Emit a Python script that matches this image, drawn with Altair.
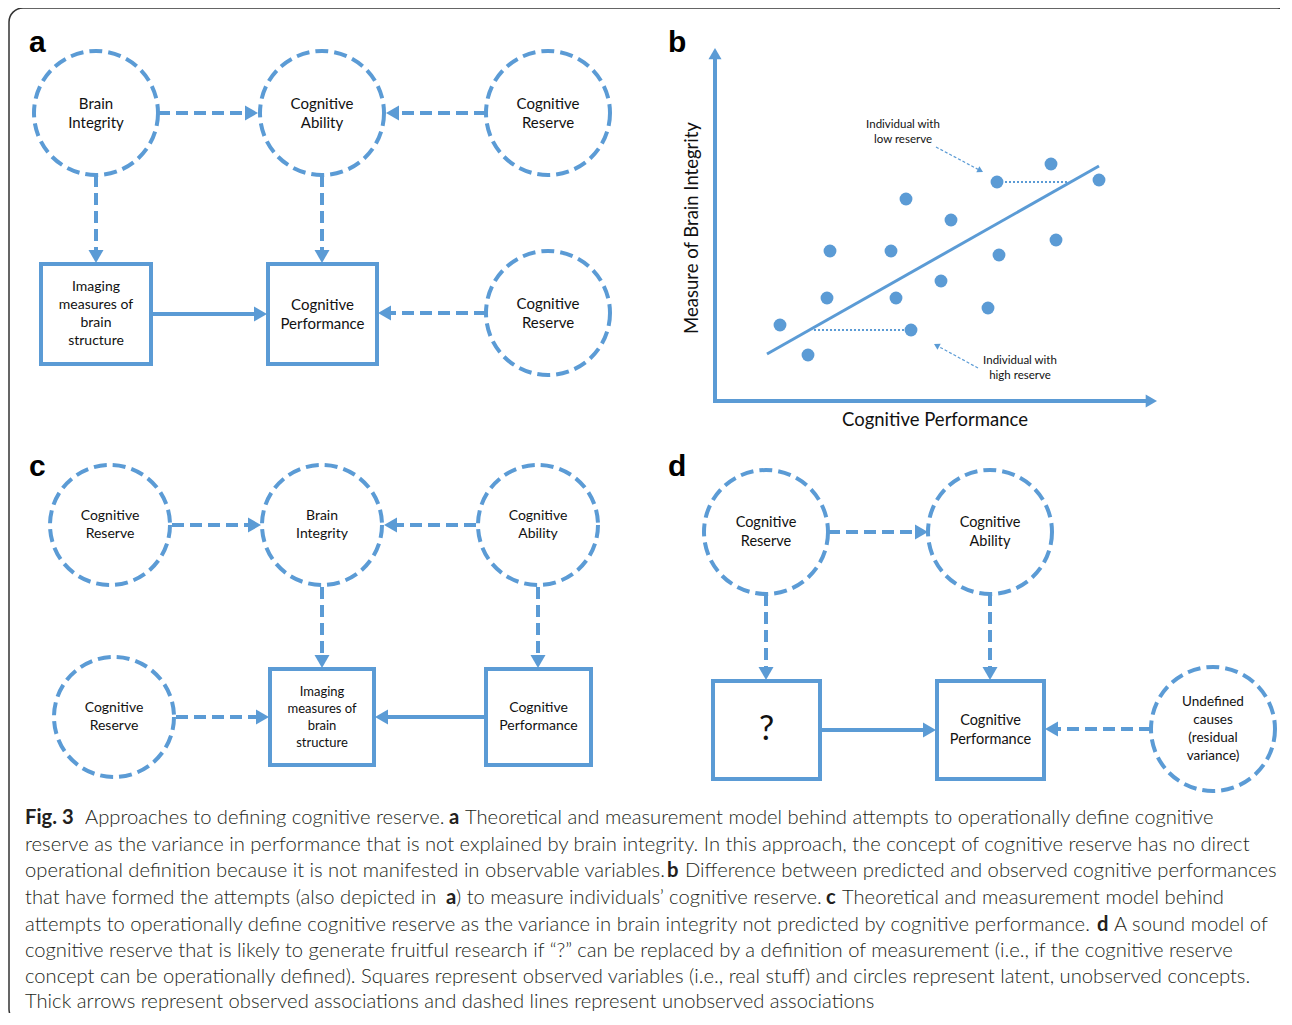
import math
import altair as alt
import pandas as pd

BLUE = "#5B9BD5"

# ---------------- latent concepts (dashed circles) ----------------
circle_panel = ["a", "a", "a", "a", "c", "c", "c", "c", "d", "d", "d"]
circle_label = ["Brain\nIntegrity", "Cognitive\nAbility", "Cognitive\nReserve", "Cognitive\nReserve",
                "Cognitive\nReserve", "Brain\nIntegrity", "Cognitive\nAbility", "Cognitive\nReserve",
                "Cognitive\nReserve", "Cognitive\nAbility", "Undefined\ncauses\n(residual\nvariance)"]
circle_x = [96, 322, 548, 548, 110, 322, 538, 114, 766, 990, 1213]
circle_y = [113, 113, 113, 313, 525, 525, 525, 717, 532, 532, 729]

# ---------------- observed variables (boxes) ----------------
box_panel = ["a", "a", "c", "c", "d", "d"]
box_label = ["Imaging\nmeasures of\nbrain\nstructure", "Cognitive\nPerformance",
             "Imaging\nmeasures of\nbrain\nstructure", "Cognitive\nPerformance",
             "?", "Cognitive\nPerformance"]
box_x0 = [41, 268, 270, 486, 713, 937]
box_x1 = [151, 377, 374, 591, 820, 1044]
box_y0 = [264, 264, 669, 669, 681, 681]
box_y1 = [364, 364, 765, 765, 779, 779]

# ---------------- associations (arrows) ----------------
edge_kind = ["dashed", "dashed", "dashed", "dashed", "solid", "dashed",
             "dashed", "dashed", "dashed", "dashed", "dashed", "solid",
             "dashed", "dashed", "dashed", "solid", "dashed"]
edge_x1 = [158, 486, 96, 322, 151, 486, 172, 476, 322, 538, 176, 486, 828, 766, 990, 820, 1151]
edge_y1 = [113, 113, 175, 175, 314, 313, 525, 525, 587, 587, 717, 717, 532, 594, 594, 730, 729]
edge_x2 = [258, 386, 96, 322, 267, 378, 261, 384, 322, 538, 269, 375, 928, 766, 990, 936, 1045]
edge_y2 = [113, 113, 263, 263, 314, 313, 525, 525, 668, 668, 717, 717, 532, 680, 680, 730, 729]

# ---------------- panel b scatter ----------------
scatter_x = [780, 808, 827, 830, 891, 896, 906, 911, 941, 951, 988, 999, 997, 1051, 1056, 1099]
scatter_y = [325, 355, 298, 251, 251, 298, 199, 330, 281, 220, 308, 255, 182, 164, 240, 180]
fit_x = [767, 1099]
fit_y = [354, 166]
resid_x1 = [997, 814]
resid_x2 = [1069, 911]
resid_y = [182, 330]
axis_x1 = [715, 713]
axis_y1 = [402, 401]
axis_x2 = [715, 1157]
axis_y2 = [48, 401]
note_label = ["Individual with\nlow reserve", "Individual with\nhigh reserve"]
note_x = [903, 1020]
note_y = [132, 368]
note_x1 = [936, 978]
note_y1 = [147, 368]
note_x2 = [983, 934]
note_y2 = [172, 344]

panel_letters = ["a", "b", "c", "d"]
panel_letter_x = [29, 668, 29, 668]
panel_letter_y = [52, 52, 476, 476]

# ---------------- caption ----------------
caption_line_y = [818, 845, 871, 898, 925, 951, 977, 1002]
seg_line = [0, 0, 0, 0, 1, 2, 2, 2, 3, 3, 3, 3, 3, 4, 4, 4, 5, 6, 7]
seg_x = [25, 85, 449, 465, 25, 25, 667, 685, 25, 446, 456, 826, 842, 25, 1097, 1114, 25, 25, 25]
seg_bold = [1, 0, 1, 0, 0, 0, 1, 0, 0, 1, 0, 1, 0, 0, 1, 0, 0, 0, 0]
seg_text = [
    "Fig. 3", "Approaches to defining cognitive reserve.", "a",
    "Theoretical and measurement model behind attempts to operationally define cognitive",
    "reserve as the variance in performance that is not explained by brain integrity. In this approach, the concept of cognitive reserve has no direct",
    "operational definition because it is not manifested in observable variables.", "b",
    "Difference between predicted and observed cognitive performances",
    "that have formed the attempts (also depicted in", "a",
    ") to measure individuals\u2019 cognitive reserve.", "c",
    "Theoretical and measurement model behind",
    "attempts to operationally define cognitive reserve as the variance in brain integrity not predicted by cognitive performance.",
    "d", "A sound model of",
    "cognitive reserve that is likely to generate fruitful research if \u201c?\u201d can be replaced by a definition of measurement (i.e., if the cognitive reserve",
    "concept can be operationally defined). Squares represent observed variables (i.e., real stuff) and circles represent latent, unobserved concepts.",
    "Thick arrows represent observed associations and dashed lines represent unobserved associations",
]

# ================= build chart =================
W, H = 1272, 1005
XS = alt.Scale(domain=[8, 8 + W], zero=False, nice=False)
YS = alt.Scale(domain=[8 + H, 8], zero=False, nice=False)


def X(f="x"):
    return alt.X(f + ":Q", scale=XS, axis=None)


def Y(f="y"):
    return alt.Y(f + ":Q", scale=YS, axis=None)


def arrows(x1, y1, x2, y2, head):
    rows_l, rows_h = [], []
    hl = 0.866 * math.sqrt(head)
    for a, b, c, d in zip(x1, y1, x2, y2):
        L = math.hypot(c - a, d - b)
        ux, uy = (c - a) / L, (d - b) / L
        rows_l.append({"x": a, "y": b, "x2": c - ux * (hl - 1), "y2": d - uy * (hl - 1)})
        rows_h.append({"x": c - ux * hl / 2, "y": d - uy * hl / 2,
                       "ang": math.degrees(math.atan2(ux, -uy)) % 360})
    return pd.DataFrame(rows_l), pd.DataFrame(rows_h)


def first_line_y(y, label, lh):
    # multi-line text is drawn downward from the first line: centre the block
    return y - (label.count("\n")) * lh / 2


layers = []

# frame
frame = pd.DataFrame({"x": [9], "x2": [1291], "y": [8], "y2": [1023]})
layers.append(alt.Chart(frame).mark_rect(fillOpacity=0, stroke="#333333", strokeWidth=1.5, cornerRadius=14)
              .encode(x=X(), x2="x2:Q", y=Y(), y2="y2:Q"))

# circles
circ = pd.DataFrame({"x": circle_x, "y": circle_y, "label": circle_label, "panel": circle_panel})
circ["d"] = [120 if p == "c" else 124 for p in circle_panel]
layers.append(alt.Chart(circ).mark_point(shape="circle", filled=False, opacity=1, stroke=BLUE,
                                          strokeWidth=4, strokeDash=[13, 6])
              .encode(x=X(), y=Y(), size=alt.Size("sz:Q", scale=None))
              .transform_calculate(sz="datum.d * datum.d"))

# boxes
box = pd.DataFrame({"x": box_x0, "x2": box_x1, "y": box_y0, "y2": box_y1, "label": box_label})
layers.append(alt.Chart(box).mark_rect(fillOpacity=0, stroke=BLUE, strokeWidth=4)
              .encode(x=X(), x2="x2:Q", y=Y(), y2="y2:Q"))

# arrows
for kind, dash in (("dashed", [12, 6]), ("solid", None)):
    idx = [i for i, k in enumerate(edge_kind) if k == kind]
    lines, heads = arrows([edge_x1[i] for i in idx], [edge_y1[i] for i in idx],
                          [edge_x2[i] for i in idx], [edge_y2[i] for i in idx], 225)
    kw = dict(color=BLUE, strokeWidth=4)
    if dash:
        kw["strokeDash"] = dash
    layers.append(alt.Chart(lines).mark_rule(**kw).encode(x=X(), y=Y(), x2="x2:Q", y2="y2:Q"))
    layers.append(alt.Chart(heads).mark_point(shape="triangle-up", filled=True, opacity=1, color=BLUE, size=225)
                  .encode(x=X(), y=Y(), angle=alt.Angle("ang:Q", scale=None)))

# panel b axes
lines, heads = arrows(axis_x1, axis_y1, axis_x2, axis_y2, 170)
layers.append(alt.Chart(lines).mark_rule(color=BLUE, strokeWidth=4).encode(x=X(), y=Y(), x2="x2:Q", y2="y2:Q"))
layers.append(alt.Chart(heads).mark_point(shape="triangle-up", filled=True, opacity=1, color=BLUE, size=170)
              .encode(x=X(), y=Y(), angle=alt.Angle("ang:Q", scale=None)))

# annotation arrows
lines, heads = arrows(note_x1, note_y1, note_x2, note_y2, 45)
layers.append(alt.Chart(lines).mark_rule(color=BLUE, strokeWidth=1.2, strokeDash=[3, 2])
              .encode(x=X(), y=Y(), x2="x2:Q", y2="y2:Q"))
layers.append(alt.Chart(heads).mark_point(shape="triangle-up", filled=True, opacity=1, color=BLUE, size=45)
              .encode(x=X(), y=Y(), angle=alt.Angle("ang:Q", scale=None)))

# fit line and residuals
fit = pd.DataFrame({"x": [fit_x[0]], "y": [fit_y[0]], "x2": [fit_x[1]], "y2": [fit_y[1]]})
layers.append(alt.Chart(fit).mark_rule(color=BLUE, strokeWidth=3).encode(x=X(), y=Y(), x2="x2:Q", y2="y2:Q"))
res = pd.DataFrame({"x": resid_x1, "x2": resid_x2, "y": resid_y})
layers.append(alt.Chart(res).mark_rule(color=BLUE, strokeWidth=2, strokeDash=[2, 2])
              .encode(x=X(), x2="x2:Q", y=Y()))
sc = pd.DataFrame({"x": scatter_x, "y": scatter_y})
layers.append(alt.Chart(sc).mark_circle(color=BLUE, opacity=1, size=165).encode(x=X(), y=Y()))


# node texts
def node_style(panel, label):
    n = label.count("\n") + 1
    if label == "?":
        return (34, 40)
    if panel == "a":
        return (14, 18) if n == 4 else (15, 19)
    if panel == "c":
        return (13, 17) if n == 4 else (14, 18)
    return (13.5, 18) if n == 4 else (14.5, 19)


trows = []
for x, y, l, p in zip(circle_x, circle_y, circle_label, circle_panel):
    fs, lh = node_style(p, l)
    trows.append({"x": x, "y": first_line_y(y, l, lh), "label": l, "fs": fs, "lh": lh})
for x0, x1, y0, y1, l, p in zip(box_x0, box_x1, box_y0, box_y1, box_label, box_panel):
    fs, lh = node_style(p, l)
    trows.append({"x": (x0 + x1) / 2, "y": first_line_y((y0 + y1) / 2, l, lh), "label": l, "fs": fs, "lh": lh})
tdf = pd.DataFrame(trows)
for (fs, lh), g in tdf.groupby(["fs", "lh"]):
    layers.append(alt.Chart(g.reset_index(drop=True)).mark_text(
        font="Lato", fontSize=float(fs), lineHeight=float(lh), lineBreak="\n",
        align="center", baseline="middle", color="#111111")
        .encode(x=X(), y=Y(), text="label:N"))

# panel b texts
notes = pd.DataFrame({"x": note_x, "y": [first_line_y(y, l, 15) for y, l in zip(note_y, note_label)],
                      "label": note_label})
layers.append(alt.Chart(notes).mark_text(font="Lato", fontSize=11.5, lineHeight=15, lineBreak="\n",
                                         align="center", baseline="middle", color="#111111")
              .encode(x=X(), y=Y(), text="label:N"))
axl = pd.DataFrame({"x": [935], "y": [420], "label": ["Cognitive Performance"]})
layers.append(alt.Chart(axl).mark_text(font="Lato", fontSize=18.5, align="center", baseline="middle",
                                       color="#111111")
              .encode(x=X(), y=Y(), text="label:N"))
ayl = pd.DataFrame({"x": [692], "y": [228], "label": ["Measure of Brain Integrity"]})
layers.append(alt.Chart(ayl).mark_text(font="Lato", fontSize=18.5, angle=270, align="center", baseline="middle",
                                       color="#111111")
              .encode(x=X(), y=Y(), text="label:N"))

# panel letters
pl = pd.DataFrame({"x": panel_letter_x, "y": panel_letter_y, "label": panel_letters})
layers.append(alt.Chart(pl).mark_text(font="Liberation Sans", fontSize=30, fontWeight="bold", align="left",
                                      baseline="alphabetic", color="#000000")
              .encode(x=X(), y=Y(), text="label:N"))

# caption
cap = pd.DataFrame({"x": seg_x, "y": [caption_line_y[i] for i in seg_line], "label": seg_text, "bold": seg_bold})
layers.append(alt.Chart(cap[cap.bold == 0].reset_index(drop=True)).mark_text(
    font="Lato", fontSize=20.2, fontWeight=300, align="left", baseline="middle", color="#231F20")
    .encode(x=X(), y=Y(), text="label:N"))
layers.append(alt.Chart(cap[cap.bold == 1].reset_index(drop=True)).mark_text(
    font="Lato", fontSize=20.2, fontWeight="bold", align="left", baseline="middle", color="#231F20")
    .encode(x=X(), y=Y(), text="label:N"))

chart = alt.layer(*layers).properties(
    width=W, height=H, padding=0, background="white",
    autosize=alt.AutoSizeParams(type="none"),
).configure_view(strokeWidth=0)

chart.save("out.html", embed_options={"renderer": "svg", "actions": False})
